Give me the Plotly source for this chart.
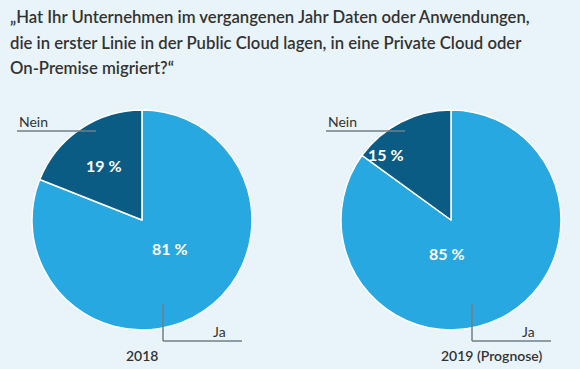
import plotly.graph_objects as go

# ---- data ----
title_lines = [
    "„Hat Ihr Unternehmen im vergangenen Jahr Daten oder Anwendungen,",
    "die in erster Linie in der Public Cloud lagen, in eine Private Cloud oder",
    "On-Premise migriert?“",
]
categories = ["Ja", "Nein"]
values_2018 = [81, 19]
values_2019 = [85, 15]
pie_titles = ["2018", "2019 (Prognose)"]

# ---- style ----
W, H = 580, 369
BG = "#e8f4fa"
C_JA = "#27a8e0"
C_NEIN = "#0b5c84"
TXT = "#333333"
LINE = "#6f7f88"
FONT = "Lato"

def px(x):
    return x / W

def py(y):
    return 1 - y / H

fig = go.Figure()

centers = [(142, 220), (451, 220)]
R = 110
for (cx, cy), vals in zip(centers, [values_2018, values_2019]):
    fig.add_trace(go.Pie(
        labels=categories,
        values=vals,
        sort=False,
        direction="clockwise",
        rotation=0,
        marker=dict(colors=[C_JA, C_NEIN], line=dict(color="white", width=1.5)),
        textinfo="none",
        hoverinfo="label+percent",
        showlegend=False,
        domain=dict(x=[px(cx - R), px(cx + R)], y=[py(cy + R), py(cy - R)]),
    ))

annotations = []
# title
for i, line in enumerate(title_lines):
    annotations.append(dict(
        text=line, x=px(8), y=py(17 + i * 25.5), xref="paper", yref="paper",
        xanchor="left", yanchor="middle", showarrow=False,
        font=dict(family=FONT, size=16.7, color=TXT, weight=600),
    ))

# label placement offsets relative to each pie centre
big_offsets = [(8, 40), (16, 45)]
small_offsets = [(-58, -55), (-45, -65)]
for (cx, cy), vals, ptitle, big_off, small_off in zip(
        centers, [values_2018, values_2019], pie_titles, big_offsets, small_offsets):
    annotations.append(dict(
        text=f"<b>{vals[0]} %</b>", x=px(cx + big_off[0]), y=py(cy + big_off[1]),
        xref="paper", yref="paper", showarrow=False,
        font=dict(family=FONT, size=16, color="white")))
    annotations.append(dict(
        text=f"<b>{vals[1]} %</b>", x=px(cx + small_off[0]), y=py(cy + small_off[1]),
        xref="paper", yref="paper", showarrow=False,
        font=dict(family=FONT, size=16, color="white")))
    annotations.append(dict(
        text=categories[1], x=px(cx - 125), y=py(121), xref="paper", yref="paper",
        xanchor="left", yanchor="middle", showarrow=False,
        font=dict(family=FONT, size=14, color=TXT)))
    annotations.append(dict(
        text=categories[0], x=px(cx + 86), y=py(331), xref="paper", yref="paper",
        xanchor="right", yanchor="middle", showarrow=False,
        font=dict(family=FONT, size=14, color=TXT)))
    annotations.append(dict(
        text=ptitle, x=px(cx + (0 if ptitle == "2018" else 40)),
        y=py(355), xref="paper", yref="paper", xanchor="center", yanchor="middle",
        showarrow=False, font=dict(family=FONT, size=14, color=TXT, weight=600)))

shapes = []
for cx, cy in centers:
    # Nein leader
    shapes.append(dict(type="line", xref="paper", yref="paper",
                       x0=px(cx - 125), x1=px(cx - 46), y0=py(131), y1=py(131),
                       line=dict(color=LINE, width=1.5)))
    # Ja leader
    shapes.append(dict(type="line", xref="paper", yref="paper",
                       x0=px(cx + 21), x1=px(cx + 21), y0=py(304), y1=py(341),
                       line=dict(color=LINE, width=1.5)))
    shapes.append(dict(type="line", xref="paper", yref="paper",
                       x0=px(cx + 21), x1=px(cx + 100), y0=py(341), y1=py(341),
                       line=dict(color=LINE, width=1.5)))

fig.update_layout(
    width=W, height=H,
    margin=dict(l=0, r=0, t=0, b=0),
    paper_bgcolor=BG, plot_bgcolor=BG,
    annotations=annotations, shapes=shapes,
    font=dict(family=FONT, color=TXT),
)

fig.write_html("out.html", config={"displayModeBar": False},
               post_script="document.body.style.margin='0';")
